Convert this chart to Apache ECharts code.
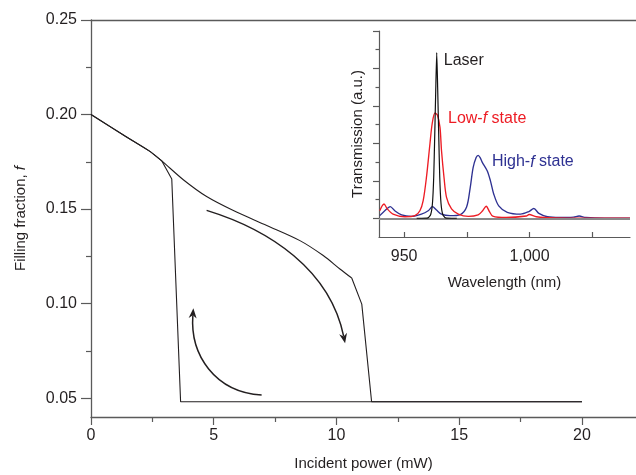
<!DOCTYPE html>
<html>
<head>
<meta charset="utf-8">
<script src="https://cdn.jsdelivr.net/npm/echarts@6/dist/echarts.min.js"></script>
<style>
html,body{margin:0;padding:0;background:#fff;}
#chart{width:636px;height:475px;}
</style>
</head>
<body>
<div id="chart"></div>
<script>
// ---------- Main chart data ----------
var highBranchX = [0, 1.4, 2.40, 2.88, 3.76, 4.71, 5.80, 7.16, 8.51, 9.46, 10.14, 10.62, 11.03, 11.43, 20];
var highBranchY = [0.200, 0.1885, 0.1805, 0.1755, 0.1655, 0.1566, 0.1492, 0.1413, 0.1333, 0.1254, 0.1183, 0.1135, 0.0997, 0.0481, 0.0481];
var highKinkIndex = 11; // smooth part ends at the kink (10.62 mW)
var lowBranchX = [0, 1.4, 2.40, 2.88, 3.29, 3.65, 20];
var lowBranchY = [0.200, 0.1885, 0.1805, 0.1755, 0.1659, 0.0481, 0.0481];
var mainXTicks = [0, 5, 10, 15, 20];
var mainXMinor = [2.5, 7.5, 12.5, 17.5];
var mainYTicks = [0.05, 0.10, 0.15, 0.20, 0.25];
var mainYMinor = [0.075, 0.125, 0.175, 0.225];
// arrows: start, control 1, control 2, end (data units)
var arrowDown = [4.71, 0.1493, 7.29, 0.1390, 9.74, 0.1178, 10.35, 0.0790];
var arrowUp = [6.95, 0.0516, 5.05, 0.0532, 4.03, 0.0728, 4.17, 0.0975];

// ---------- Inset data ----------
var laserWl = [955, 957, 959.5, 960.6, 961.3, 961.8, 962.2, 962.6, 963.0, 963.4, 963.8, 964.2, 964.7, 965.4, 966.5, 969, 971];
var laserT  = [0, 0, 0.01, 0.1, 0.4, 1.1, 2.2, 3.4, 4.42, 3.4, 2.2, 1.1, 0.4, 0.1, 0.01, 0, 0];

var lowWl = [940.3, 942.0, 943.3, 945.6, 950.3, 954.3, 956.3, 957.6, 958.9, 960.3, 961.2, 962.3, 963.3, 964.3, 964.9, 965.9, 966.9, 968.9, 971.6, 975.6, 979.5, 981.3, 982.7, 984.0, 985.3, 990.7, 998.7, 999.8, 1002.7, 1010, 1040];
var lowT  = [0.20, 0.38, 0.25, 0.11, 0.04, 0.07, 0.20, 0.47, 1.09, 1.99, 2.53, 2.81, 2.75, 2.43, 1.81, 1.09, 0.56, 0.25, 0.11, 0.05, 0.09, 0.20, 0.32, 0.18, 0.06, 0.02, 0.06, 0.10, 0.04, 0.01, 0.0];

var highWl = [940.3, 942.3, 944.5, 946.3, 949, 952.9, 956.9, 959.6, 961.3, 962.9, 964.9, 968.3, 972.4, 974.9, 976.3, 977.5, 978.7, 979.5, 980.3, 981.1, 983.1, 984.4, 985.7, 987.7, 991.1, 996.4, 999.7, 1001.7, 1003.7, 1007.1, 1012, 1017.5, 1019.7, 1022.4, 1030, 1040];
var highT  = [0.07, 0.20, 0.31, 0.20, 0.09, 0.05, 0.11, 0.20, 0.31, 0.22, 0.11, 0.07, 0.10, 0.30, 0.80, 1.35, 1.62, 1.68, 1.62, 1.50, 1.27, 1.00, 0.65, 0.33, 0.16, 0.11, 0.18, 0.26, 0.13, 0.04, 0.02, 0.03, 0.06, 0.02, 0.0, 0.0];

var insetXTicks = [950, 975, 1000, 1025];
var insetXLabels = [950, 1000];
var insetYTicks = [0, 1, 2, 3, 4, 5];
var insetYMinor = [0.5, 1.5, 2.5, 3.5, 4.5];

function zip(a, b) { return a.map(function (v, i) { return [v, b[i]]; }); }

var TXT = '#231f20';
var AX = '#5a5a5a';
var FONT = '"Liberation Sans", Arial, sans-serif';
var RED = '#ed1c24';
var BLUE = '#2e3192';

var chart = echarts.init(document.getElementById('chart'), null, {renderer: 'canvas'});

var highAll = zip(highBranchX, highBranchY);

var option = {
  animation: false,
  textStyle: {fontFamily: FONT, color: TXT},
  grid: [
    {left: 91, top: 20, right: 0, bottom: 58, outerBoundsMode: 'none', containLabel: false},
    {left: 379, top: 31, right: 6, bottom: 238, outerBoundsMode: 'none', containLabel: false}
  ],
  xAxis: [
    { // main bottom
      type: 'value', gridIndex: 0, min: 0, max: 22.2, interval: 5, position: 'bottom',
      axisLine: {show: true, lineStyle: {color: AX, width: 1.3}},
      axisTick: {show: true, customValues: mainXTicks, length: 8, lineStyle: {color: AX, width: 1.2}},
      axisLabel: {show: true, customValues: mainXTicks, margin: 11, fontSize: 16, color: TXT, fontFamily: FONT},
      splitLine: {show: false},
      name: 'Incident power (mW)', nameLocation: 'middle', nameGap: 39,
      nameTextStyle: {fontSize: 15, color: TXT, fontFamily: FONT}
    },
    { // main top frame line
      type: 'value', gridIndex: 0, min: 0, max: 22.2, position: 'top',
      axisLine: {show: true, lineStyle: {color: AX, width: 1.3}},
      axisTick: {show: false}, axisLabel: {show: false}, splitLine: {show: false}
    },
    { // main minor ticks
      type: 'value', gridIndex: 0, min: 0, max: 22.2, position: 'bottom',
      axisLine: {show: false},
      axisTick: {show: true, customValues: mainXMinor, length: 5, lineStyle: {color: AX, width: 1.2}},
      axisLabel: {show: false}, splitLine: {show: false}
    },
    { // inset x
      type: 'value', gridIndex: 1, min: 940, max: 1040, position: 'bottom',
      axisLine: {show: true, onZero: false, lineStyle: {color: AX, width: 1.2}},
      axisTick: {show: true, inside: true, customValues: insetXTicks, length: 5, lineStyle: {color: AX, width: 1.2}},
      axisLabel: {show: true, customValues: insetXLabels, margin: 12, fontSize: 16, color: TXT, fontFamily: FONT,
        formatter: function (v) { return v >= 1000 ? (Math.floor(v / 1000) + ',' + String(v % 1000).padStart(3, '0')) : String(v); }},
      splitLine: {show: false},
      name: 'Wavelength (nm)', nameLocation: 'middle', nameGap: 38,
      nameTextStyle: {fontSize: 15, color: TXT, fontFamily: FONT}
    }
  ],
  yAxis: [
    { // main y
      type: 'value', gridIndex: 0, min: 0.04, max: 0.25,
      axisLine: {show: true, lineStyle: {color: AX, width: 1.3}},
      axisTick: {show: true, customValues: mainYTicks, length: 10, lineStyle: {color: AX, width: 1.2}},
      axisLabel: {show: true, customValues: mainYTicks, margin: 14, fontSize: 16, color: TXT, fontFamily: FONT,
        formatter: function (v) { return v.toFixed(2); }},
      splitLine: {show: false},
      name: 'Filling fraction, {i|f}', nameLocation: 'middle', nameGap: 63,
      nameTextStyle: {fontSize: 15, color: TXT, fontFamily: FONT,
        rich: {i: {fontStyle: 'italic', fontSize: 15, color: TXT, fontFamily: FONT}}}
    },
    { // main minor y
      type: 'value', gridIndex: 0, min: 0.04, max: 0.25, position: 'left',
      axisLine: {show: false},
      axisTick: {show: true, customValues: mainYMinor, length: 5, lineStyle: {color: AX, width: 1.2}},
      axisLabel: {show: false}, splitLine: {show: false}
    },
    { // inset y
      type: 'value', gridIndex: 1, min: -0.5, max: 5, position: 'left',
      axisLine: {show: true, onZero: false, lineStyle: {color: AX, width: 1.2}},
      axisTick: {show: true, customValues: insetYTicks, length: 6, lineStyle: {color: AX, width: 1.2}},
      axisLabel: {show: false}, splitLine: {show: false},
      name: 'Transmission (a.u.)', nameLocation: 'middle', nameGap: 14,
      nameTextStyle: {fontSize: 15, color: TXT, fontFamily: FONT}
    },
    { // inset minor y
      type: 'value', gridIndex: 1, min: -0.5, max: 5, position: 'left',
      axisLine: {show: false},
      axisTick: {show: true, customValues: insetYMinor, length: 3.5, lineStyle: {color: AX, width: 1.2}},
      axisLabel: {show: false}, splitLine: {show: false}
    }
  ],
  series: [
    {
      name: 'Increasing power (smooth part)', type: 'line', xAxisIndex: 0, yAxisIndex: 0,
      data: highAll.slice(0, highKinkIndex + 1), showSymbol: false, symbol: 'none',
      smooth: 0.3,
      lineStyle: {color: TXT, width: 1.1}, z: 3
    },
    {
      name: 'Increasing power (switch)', type: 'line', xAxisIndex: 0, yAxisIndex: 0,
      data: highAll.slice(highKinkIndex), showSymbol: false, symbol: 'none',
      lineStyle: {color: TXT, width: 1.1}, z: 3
    },
    {
      name: 'Decreasing power', type: 'line', xAxisIndex: 0, yAxisIndex: 0,
      data: zip(lowBranchX, lowBranchY), showSymbol: false, symbol: 'none',
      lineStyle: {color: TXT, width: 1.1}, z: 3
    },
    {
      name: 'Arrows', type: 'custom', xAxisIndex: 0, yAxisIndex: 0,
      data: [arrowDown, arrowUp],
      encode: {x: [0, 2, 4, 6], y: [1, 3, 5, 7]},
      silent: true, z: 4,
      renderItem: function (params, api) {
        var p = [];
        for (var i = 0; i < 4; i++) p.push(api.coord([api.value(2 * i), api.value(2 * i + 1)]));
        var dx = p[3][0] - p[2][0], dy = p[3][1] - p[2][1];
        var L = Math.sqrt(dx * dx + dy * dy); dx /= L; dy /= L;
        var hl = 10, hw = 4;
        var bx = p[3][0] - dx * hl, by = p[3][1] - dy * hl;
        return {
          type: 'group',
          children: [
            {type: 'bezierCurve',
              shape: {x1: p[0][0], y1: p[0][1], cpx1: p[1][0], cpy1: p[1][1], cpx2: p[2][0], cpy2: p[2][1], x2: bx + dx * 3, y2: by + dy * 3},
              style: {stroke: TXT, fill: null, lineWidth: 1.5}},
            {type: 'polygon',
              shape: {points: [[p[3][0], p[3][1]], [bx - dy * hw, by + dx * hw], [bx + dx * 3, by + dy * 3], [bx + dy * hw, by - dx * hw]]},
              style: {fill: TXT, stroke: null}}
          ]
        };
      }
    },
    {
      name: 'Zero', type: 'line', xAxisIndex: 3, yAxisIndex: 2, data: [], z: 1,
      markLine: {silent: true, symbol: 'none', label: {show: false},
        lineStyle: {color: '#8a8a8a', width: 2.2, type: 'solid'},
        data: [{yAxis: 0}]}
    },
    {
      name: 'High-f state', type: 'line', xAxisIndex: 3, yAxisIndex: 2,
      data: zip(highWl, highT), showSymbol: false, symbol: 'none', smooth: 0.3,
      lineStyle: {color: BLUE, width: 1.35}, z: 3,
      markPoint: {symbol: 'circle', symbolSize: 1, itemStyle: {color: 'rgba(0,0,0,0)'},
        data: [{coord: [984.8, 1.50],
          label: {show: true, position: 'right', distance: 0, formatter: 'High-{i|f} state', color: BLUE, fontSize: 16, fontFamily: FONT,
            rich: {i: {fontStyle: 'italic', color: BLUE, fontSize: 16, fontFamily: FONT}}}}]}
    },
    {
      name: 'Low-f state', type: 'line', xAxisIndex: 3, yAxisIndex: 2,
      data: zip(lowWl, lowT), showSymbol: false, symbol: 'none', smooth: 0.3,
      lineStyle: {color: RED, width: 1.35}, z: 4,
      markPoint: {symbol: 'circle', symbolSize: 1, itemStyle: {color: 'rgba(0,0,0,0)'},
        data: [{coord: [967.3, 2.66],
          label: {show: true, position: 'right', distance: 0, formatter: 'Low-{i|f} state', color: RED, fontSize: 16, fontFamily: FONT,
            rich: {i: {fontStyle: 'italic', color: RED, fontSize: 16, fontFamily: FONT}}}}]}
    },
    {
      name: 'Laser', type: 'line', xAxisIndex: 3, yAxisIndex: 2,
      data: zip(laserWl, laserT), showSymbol: false, symbol: 'none', smooth: 0.2,
      lineStyle: {color: '#111', width: 1.2}, z: 5,
      markPoint: {symbol: 'circle', symbolSize: 1, itemStyle: {color: 'rgba(0,0,0,0)'},
        data: [{coord: [965.6, 4.2],
          label: {show: true, position: 'right', distance: 0, formatter: 'Laser', color: TXT, fontSize: 16, fontFamily: FONT}}]}
    }
  ]
};

chart.setOption(option);
</script>
</body>
</html>
